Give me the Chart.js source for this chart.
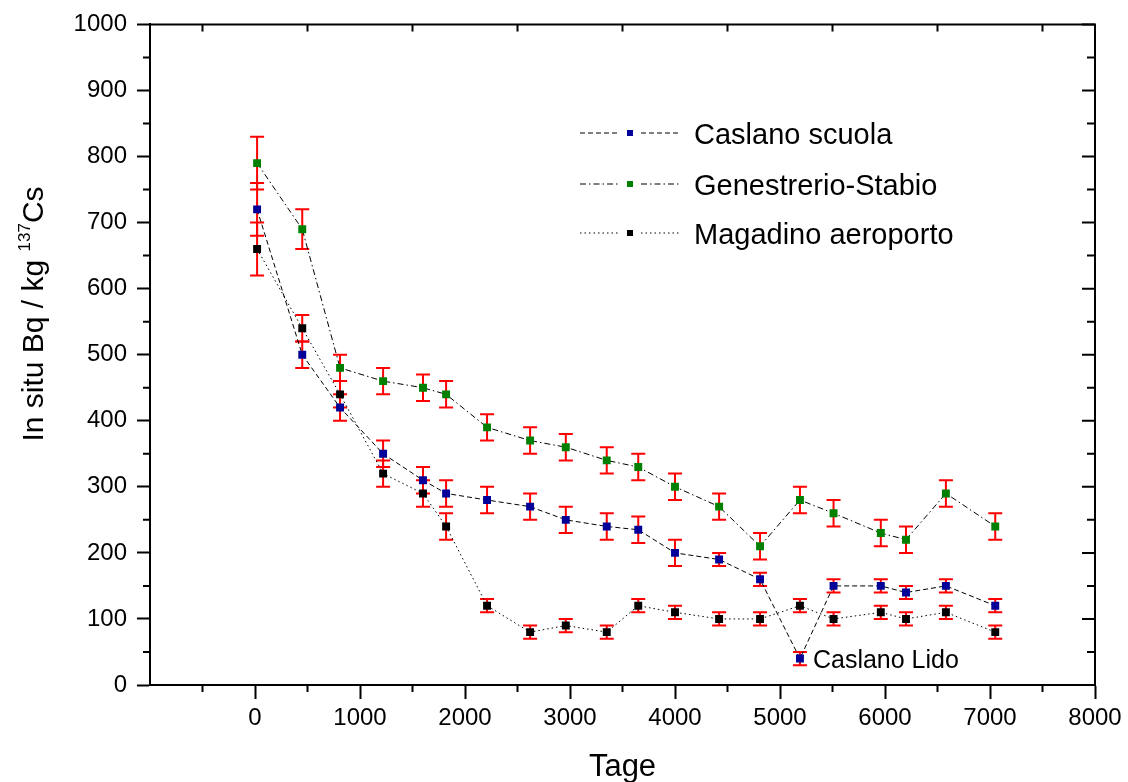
<!DOCTYPE html>
<html>
<head>
<meta charset="utf-8">
<script src="https://cdn.jsdelivr.net/npm/chart.js@4.4.1/dist/chart.umd.min.js"></script>
<style>
  html, body { margin: 0; padding: 0; background: #fff; }
  #wrap { width: 1128px; height: 782px; }
</style>
</head>
<body>
<div id="wrap"><canvas id="chart" width="1128" height="782"></canvas></div>
<script>
// values
const days = [20, 450, 810, 1220, 1600, 1820, 2210, 2620, 2960, 3350, 3650, 4000, 4420, 4810, 5190, 5510, 5960, 6200, 6580, 7050];

const caslano = [720, 500, 420, 350, 310, 290, 280, 270, 250, 240, 235, 200, 190, 160, 40, 150, 150, 140, 150, 120];
const caslanoErr = [40, 20, 20, 20, 20, 20, 20, 20, 20, 20, 20, 20, 10, 10, 10, 10, 10, 10, 10, 10];

const genestrerio = [790, 690, 480, 460, 450, 440, 390, 370, 360, 340, 330, 300, 270, 210, 280, 260, 230, 220, 290, 240];
const genestrerioErr = [40, 30, 20, 20, 20, 20, 20, 20, 20, 20, 20, 20, 20, 20, 20, 20, 20, 20, 20, 20];

const magadino = [660, 540, 440, 320, 290, 240, 120, 80, 90, 80, 120, 110, 100, 100, 120, 100, 110, 100, 110, 80];
const magadinoErr = [40, 20, 20, 20, 20, 20, 10, 10, 10, 10, 10, 10, 10, 10, 10, 10, 10, 10, 10, 10];

const seriesNames = ["Caslano scuola", "Genestrerio-Stabio", "Magadino aeroporto"];
const lidoLabel = "Caslano Lido";
const lidoIndex = 14;

const xMin = -1000, xMax = 8000, xStep = 1000;
const yMin = 0, yMax = 1000, yStep = 100;
const xTitle = "Tage";
const yTitle = ["In situ Bq / kg ", "137", "Cs"];

const FONT = "'Liberation Sans', Arial, sans-serif";

function series(name, values, errors, color, dash) {
    return {
        label: name,
        data: days.map((d, i) => ({ x: d, y: values[i] })),
        errors,
        borderColor: "#000",
        borderWidth: 1,
        borderDash: dash,
        pointStyle: "rect",
        pointRadius: 5.6,
        pointBackgroundColor: color,
        pointBorderWidth: 0,
        fill: false,
        tension: 0
    };
}

const errorBars = {
    id: "errorBars",
    beforeDatasetsDraw(chart) {
        const { ctx, scales: { x, y } } = chart;
        ctx.save();
        ctx.strokeStyle = "#ff0000";
        ctx.lineWidth = 2;
        ctx.setLineDash([]);
        chart.data.datasets.forEach(ds => {
            ds.data.forEach((p, i) => {
                const e = ds.errors[i];
                const px = x.getPixelForValue(p.x);
                const top = y.getPixelForValue(p.y + e);
                const bot = y.getPixelForValue(p.y - e);
                ctx.beginPath();
                ctx.moveTo(px, top); ctx.lineTo(px, bot);
                ctx.moveTo(px - 7, top); ctx.lineTo(px + 7, top);
                ctx.moveTo(px - 7, bot); ctx.lineTo(px + 7, bot);
                ctx.stroke();
            });
        });
        ctx.restore();
    }
};

const frame = {
    id: "frame",
    afterDraw(chart) {
        const { ctx, chartArea: a, scales: { x, y } } = chart;
        ctx.save();
        ctx.strokeStyle = "#000";
        ctx.lineWidth = 2;
        ctx.setLineDash([]);

        // top and right border
        ctx.beginPath();
        ctx.moveTo(a.left, a.top); ctx.lineTo(a.right, a.top); ctx.lineTo(a.right, a.bottom);
        ctx.stroke();

        // minor ticks, ticks on the right and top
        ctx.beginPath();
        for (let v = xMin + xStep / 2; v < xMax; v += xStep) {
            const px = x.getPixelForValue(v);
            ctx.moveTo(px, a.bottom); ctx.lineTo(px, a.bottom + 7);
            ctx.moveTo(px, a.top); ctx.lineTo(px, a.top + 7);
        }
        for (let v = yMin; v <= yMax; v += yStep / 2) {
            const py = y.getPixelForValue(v);
            const major = v % yStep === 0;
            if (!major) { ctx.moveTo(a.left - 7, py); ctx.lineTo(a.left, py); }
            ctx.moveTo(a.right - (major ? 13 : 8), py); ctx.lineTo(a.right, py);
        }
        ctx.stroke();

        ctx.fillStyle = "#000";

        // axis titles
        ctx.font = "31px " + FONT;
        ctx.textAlign = "center";
        ctx.textBaseline = "alphabetic";
        ctx.fillText(xTitle, (a.left + a.right) / 2, 776);

        ctx.save();
        ctx.translate(43, 314);
        ctx.rotate(-Math.PI / 2);
        ctx.textAlign = "left";
        const big = "30px " + FONT, small = "17px " + FONT;
        ctx.font = big; const w1 = ctx.measureText(yTitle[0]).width, w3 = ctx.measureText(yTitle[2]).width;
        ctx.font = small; const w2 = ctx.measureText(yTitle[1]).width;
        let tx = -(w1 + w2 + w3) / 2;
        ctx.font = big; ctx.fillText(yTitle[0], tx, 0); tx += w1;
        ctx.font = small; ctx.fillText(yTitle[1], tx, -13); tx += w2;
        ctx.font = big; ctx.fillText(yTitle[2], tx, 0);
        ctx.restore();

        // legend
        const rows = [133, 184, 233];
        chart.data.datasets.forEach((ds, i) => {
            const ly = rows[i];
            ctx.strokeStyle = "#000";
            ctx.lineWidth = 1;
            ctx.setLineDash(ds.borderDash);
            ctx.beginPath();
            ctx.moveTo(580, ly); ctx.lineTo(618, ly);
            ctx.moveTo(641, ly); ctx.lineTo(679, ly);
            ctx.stroke();
            ctx.setLineDash([]);
            ctx.fillStyle = ds.pointBackgroundColor;
            ctx.fillRect(627, ly - 3, 6, 6);
            ctx.fillStyle = "#000";
            ctx.font = "29px " + FONT;
            ctx.textAlign = "left";
            ctx.textBaseline = "middle";
            ctx.fillText(ds.label, 694, ly + 3);
        });

        // annotation for the Lido point
        const lp = chart.data.datasets[0].data[lidoIndex];
        ctx.font = "25px " + FONT;
        ctx.textBaseline = "middle";
        ctx.fillText(lidoLabel, x.getPixelForValue(lp.x) + 13, y.getPixelForValue(lp.y) + 3);

        ctx.restore();
    }
};

new Chart(document.getElementById("chart"), {
    type: "line",
    data: {
        datasets: [
            series(seriesNames[0], caslano, caslanoErr, "#000099", [5, 3]),
            series(seriesNames[1], genestrerio, genestrerioErr, "#008000", [6, 3, 1.5, 3]),
            series(seriesNames[2], magadino, magadinoErr, "#000000", [1.5, 3])
        ]
    },
    options: {
        responsive: false,
        animation: false,
        devicePixelRatio: 1,
        layout: { padding: { left: 0, right: 33, top: 22, bottom: 0 } },
        plugins: {
            legend: { display: false },
            tooltip: { enabled: false }
        },
        scales: {
            x: {
                type: "linear",
                min: xMin,
                max: xMax,
                afterFit: s => { s.height = 97; },
                ticks: {
                    stepSize: xStep,
                    autoSkip: false,
                    maxRotation: 0,
                    padding: 5,
                    color: "#000",
                    font: { family: FONT, size: 24 },
                    callback: v => v < 0 ? "" : String(v)
                },
                grid: {
                    drawOnChartArea: false,
                    drawTicks: true,
                    tickLength: 14,
                    tickWidth: 2,
                    tickColor: c => (c.tick && c.tick.value < 0) ? "rgba(0,0,0,0)" : "#000"
                },
                border: { color: "#000", width: 2 }
            },
            y: {
                min: yMin,
                max: yMax,
                afterFit: s => { s.width = 150; },
                ticks: {
                    stepSize: yStep,
                    padding: 10,
                    color: "#000",
                    font: { family: FONT, size: 24 },
                    callback: v => String(v)
                },
                grid: {
                    drawOnChartArea: false,
                    drawTicks: true,
                    tickLength: 13,
                    tickWidth: 2,
                    tickColor: "#000"
                },
                border: { color: "#000", width: 2 }
            }
        }
    },
    plugins: [errorBars, frame]
});
</script>
</body>
</html>
